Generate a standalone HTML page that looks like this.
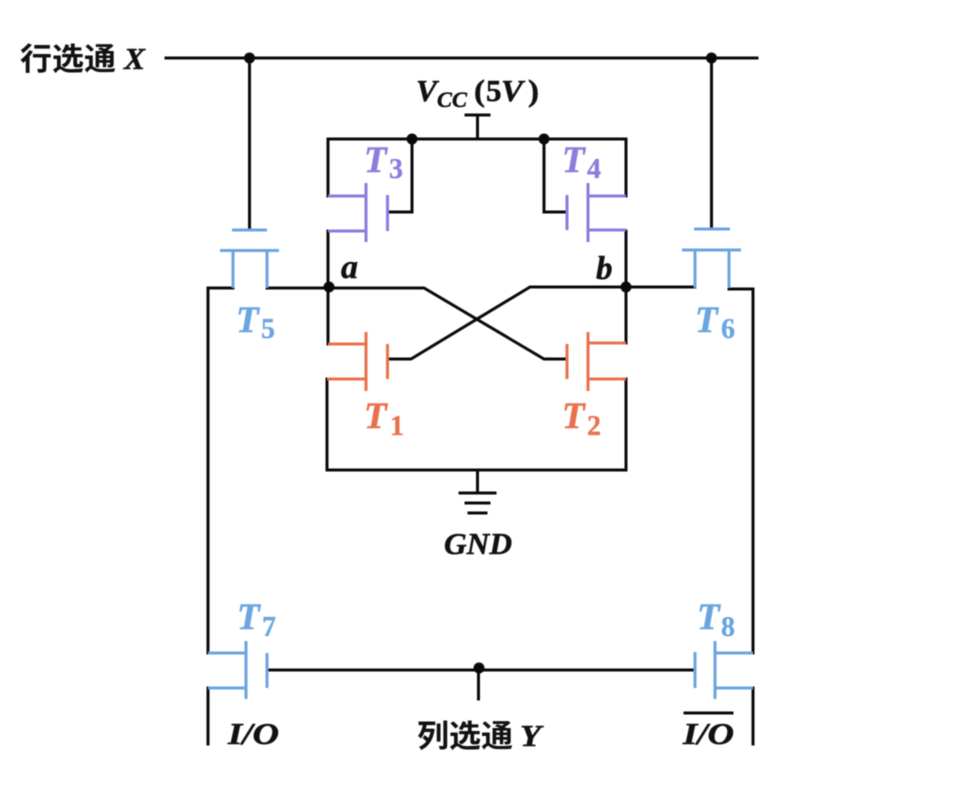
<!DOCTYPE html>
<html lang="zh">
<head>
<meta charset="utf-8">
<title>SRAM cell</title>
<style>
html,body{margin:0;padding:0;background:#fff;width:966px;height:806px;overflow:hidden}
svg{display:block;filter:blur(.45px)}
.k{stroke:#0a0a0a;stroke-width:3;fill:none;stroke-linecap:square;stroke-linejoin:miter}
.b{stroke:#6aa5e0;stroke-width:3;fill:none}
.p{stroke:#8a7ddc;stroke-width:3;fill:none}
.o{stroke:#e9704c;stroke-width:3;fill:none}
text{font-family:"Liberation Serif","Noto Serif CJK SC",serif;font-weight:bold;font-style:italic}
.c{font-family:"Liberation Sans","Noto Sans CJK SC",sans-serif;font-style:normal;font-weight:bold;font-size:31px;fill:#111}
.l{font-size:31px;fill:#111;stroke:#111;stroke-width:.5}
.T{font-size:37px;stroke-width:.5}.S{font-size:28px;font-style:normal;stroke-width:.3}
.fb{fill:#6aa5e0;stroke:#6aa5e0}.fp{fill:#8a7ddc;stroke:#8a7ddc}.fo{fill:#e9704c;stroke:#e9704c}
</style>
</head>
<body>
<svg width="966" height="806" viewBox="0 0 966 806" xmlns="http://www.w3.org/2000/svg">
<rect width="966" height="806" fill="#fff"/>
<!-- black wires -->
<path class="k" d="M166 58H757M249.500 58V229M711.500 58V229"/>
<path class="k" d="M477.500 115V139M466 115H489"/>
<path class="k" d="M328 196V139H626V196"/>
<path class="k" d="M412 139V212H388M544 139V212H567"/>
<path class="k" d="M328 231V344M626 231V343"/>
<path class="k" d="M267 288H424L544 359H567M695 287H530L411 359H388"/>
<path class="k" d="M233 288H208V653M729 289H753V653"/>
<path class="k" d="M327 379V470H626V379"/>
<path class="k" d="M477.500 470V493M460 493H495M466 503H489M469 513H486"/>
<path class="k" d="M208 688V744M753 688V744"/>
<path class="k" d="M268 670H694M478.500 670V699"/>
<path class="k" d="M685 713H732"/>
<!-- nodes -->
<g fill="#0a0a0a">
<circle cx="249.500" cy="58" r="5.500"/><circle cx="711.500" cy="58" r="5.500"/>
<circle cx="412" cy="139" r="5.500"/><circle cx="544" cy="139" r="5.500"/>
<circle cx="329" cy="287" r="5.500"/><circle cx="626" cy="287" r="5.500"/>
<circle cx="479" cy="668" r="5.500"/>
</g>
<!-- T3 T4 -->
<path class="p" d="M328 196H366M328 231H366M366 183V242M387.500 195V231"/>
<path class="p" d="M626 196H588M626 230H588M588 183V242M567 195V230"/>
<!-- T1 T2 -->
<path class="o" d="M328 344H366M327 379H366M366 332V391M387.500 344V379"/>
<path class="o" d="M626 343H588M626 379H588M588 332V391M567 344V379"/>
<!-- T5 T6 -->
<path class="b" d="M232 230H267M220 250.500H279M233 250.500V288M267 250.500V288"/>
<path class="b" d="M694 229H730M682 250H741M695 250V288M729 250V288"/>
<!-- T7 T8 -->
<path class="b" d="M208 653H246M208 688H246M246 641V699M267 653V688"/>
<path class="b" d="M753 653H715M753 688H715M715 641V699M695 652V688"/>
<!-- labels -->
<text class="c" x="20" y="70" textLength="96" lengthAdjust="spacingAndGlyphs">行选通</text>
<text class="l" x="124" y="69" textLength="21" lengthAdjust="spacingAndGlyphs">X</text>
<text class="c" x="417" y="747" textLength="96" lengthAdjust="spacingAndGlyphs">列选通</text>
<text class="l" x="520" y="746" textLength="21" lengthAdjust="spacingAndGlyphs">Y</text>
<text class="l" x="416" y="101" textLength="21" lengthAdjust="spacingAndGlyphs">V</text>
<text x="437" y="107" font-size="22" fill="#111" stroke="#111" stroke-width=".4" textLength="30" lengthAdjust="spacingAndGlyphs">CC</text>
<text class="l" x="474" y="101" style="font-style:normal" textLength="11" lengthAdjust="spacingAndGlyphs">(</text>
<text class="l" x="486" y="101" style="font-style:normal">5</text>
<text class="l" x="501" y="101" textLength="22" lengthAdjust="spacingAndGlyphs">V</text>
<text class="l" x="528" y="101" style="font-style:normal" textLength="11" lengthAdjust="spacingAndGlyphs">)</text>
<text x="341" y="278" font-size="34" fill="#111" stroke="#111" stroke-width=".5">a</text>
<text x="596" y="279" font-size="33" fill="#111" stroke="#111" stroke-width=".5">b</text>
<text class="l" x="444" y="554" textLength="68" lengthAdjust="spacingAndGlyphs">GND</text>
<text class="l" x="228" y="744" textLength="51" lengthAdjust="spacingAndGlyphs">I/O</text>
<text class="l" x="683" y="744" textLength="51" lengthAdjust="spacingAndGlyphs">I/O</text>

<text class="T fp" x="364" y="172">T</text><text class="S fp" x="389" y="178">3</text>
<text class="T fp" x="562" y="172">T</text><text class="S fp" x="587" y="178">4</text>
<text class="T fo" x="364" y="428">T</text><text class="S fo" x="390" y="435">1</text>
<text class="T fo" x="562" y="428">T</text><text class="S fo" x="587" y="435">2</text>
<text class="T fb" x="236" y="332">T</text><text class="S fb" x="261" y="338">5</text>
<text class="T fb" x="695" y="332">T</text><text class="S fb" x="721" y="338">6</text>
<text class="T fb" x="237" y="629">T</text><text class="S fb" x="262" y="636">7</text>
<text class="T fb" x="697" y="629">T</text><text class="S fb" x="721" y="636">8</text>
</svg>
</body>
</html>
